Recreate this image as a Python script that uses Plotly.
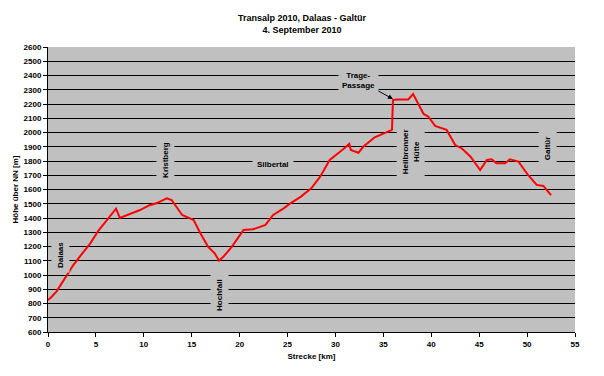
import plotly.graph_objects as go

# Distance (km) and elevation (m)
strecke_km = [0.0, 0.28, 0.9, 1.8, 2.64, 3.5, 4.4, 5.25, 6.2, 7.1, 7.5, 8.5, 9.6, 10.6, 11.3, 12.4, 12.9,
              14.0, 14.8, 15.2, 15.9, 16.7, 17.4, 17.85, 18.3, 19.2, 20.4, 21.4, 22.7, 23.5, 24.6, 25.3,
              26.4, 27.5, 28.4, 29.4, 30.8, 31.45, 31.6, 32.4, 32.9, 34.1, 35.9, 36.0, 36.4, 37.6, 38.1,
              38.7, 39.2, 39.7, 40.4, 41.6, 42.5, 43.2, 44.1, 45.1, 45.8, 46.3, 46.8, 47.7, 48.2, 49.1,
              50.1, 51.0, 51.7, 52.5]
hoehe_m = [825, 840, 885, 985, 1070, 1145, 1220, 1310, 1390, 1465, 1400, 1425, 1456, 1490, 1503, 1538, 1526,
           1421, 1398, 1386, 1293, 1199, 1152, 1100, 1128, 1199, 1316, 1321, 1351, 1421, 1468, 1503,
           1550, 1610, 1690, 1807, 1882, 1920, 1877, 1858, 1900, 1966, 2018, 2228, 2232, 2232, 2270,
           2193, 2130, 2111, 2046, 2018, 1912, 1888, 1830, 1737, 1807, 1812, 1784, 1784, 1812, 1796,
           1702, 1632, 1625, 1561]

x_ticks = list(range(0, 56, 5))
y_ticks = list(range(600, 2601, 100))

# Place labels
orte_text = ["Dalaas", "Kristberg", "Hochfall", "Silbertal", "Heilbronner<br>Hütte", "Galtür"]
orte_km = [1.25, 12.2, 17.95, 23.5, 37.8, 52.1]
orte_hoehe = [1140, 1807, 860, 1772, 1863, 1891]
orte_winkel = [-90, -90, -90, 0, -90, -90]

font_fam = "Liberation Sans, Arial, sans-serif"

fig = go.Figure()
fig.add_trace(go.Scatter(x=strecke_km, y=hoehe_m, mode="lines",
                         line=dict(color="#FF0000", width=2), showlegend=False))

for t, xk, yh, a in zip(orte_text, orte_km, orte_hoehe, orte_winkel):
    fig.add_annotation(x=xk, y=yh, text="<b>" + t + "</b>", textangle=a, showarrow=False,
                       bgcolor="#C0C0C0", font=dict(family=font_fam, size=8, color="black"),
                       borderpad=4)

fig.add_annotation(x=36.0, y=2235, ax=32.4, ay=2368, xref="x", yref="y", axref="x", ayref="y",
                   text="<b>Trage-<br>Passage</b>", showarrow=True, arrowhead=2, arrowsize=1,
                   arrowwidth=1, arrowcolor="black", bgcolor="#C0C0C0", standoff=0,
                   font=dict(family=font_fam, size=8, color="black"), borderpad=3)

fig.update_layout(
    width=588, height=360,
    margin=dict(l=40, r=21, t=39, b=36, autoexpand=False),
    paper_bgcolor="white", plot_bgcolor="#C0C0C0",
    title=dict(text="<b>Transalp 2010, Dalaas - Galtür<br>4. September 2010</b>",
               x=0.5, xanchor="center", y=0.963, yanchor="top",
               font=dict(family=font_fam, size=9, color="black")),
    font=dict(family=font_fam, size=8, color="black"),
)
fig.update_xaxes(range=[0, 55], tickvals=x_ticks, ticks="outside", ticklen=4, tickcolor="black",
                 showgrid=False, showline=True, linecolor="black", linewidth=1, zeroline=False,
                 automargin=False,
                 title=dict(text="<b>Strecke [km]</b>", font=dict(size=8), standoff=5),
                 tickfont=dict(family=font_fam, size=8, weight="bold"))
fig.update_yaxes(range=[600, 2600], tickvals=y_ticks, ticks="outside", ticklen=4, tickcolor="black",
                 showgrid=True, gridcolor="black", gridwidth=1, showline=True, linecolor="black",
                 linewidth=1, zeroline=False, automargin=False,
                 title=dict(text="<b>Höhe über NN [m]</b>", font=dict(size=8), standoff=3),
                 tickfont=dict(family=font_fam, size=8, weight="bold"))

fig.write_html("out.html")
